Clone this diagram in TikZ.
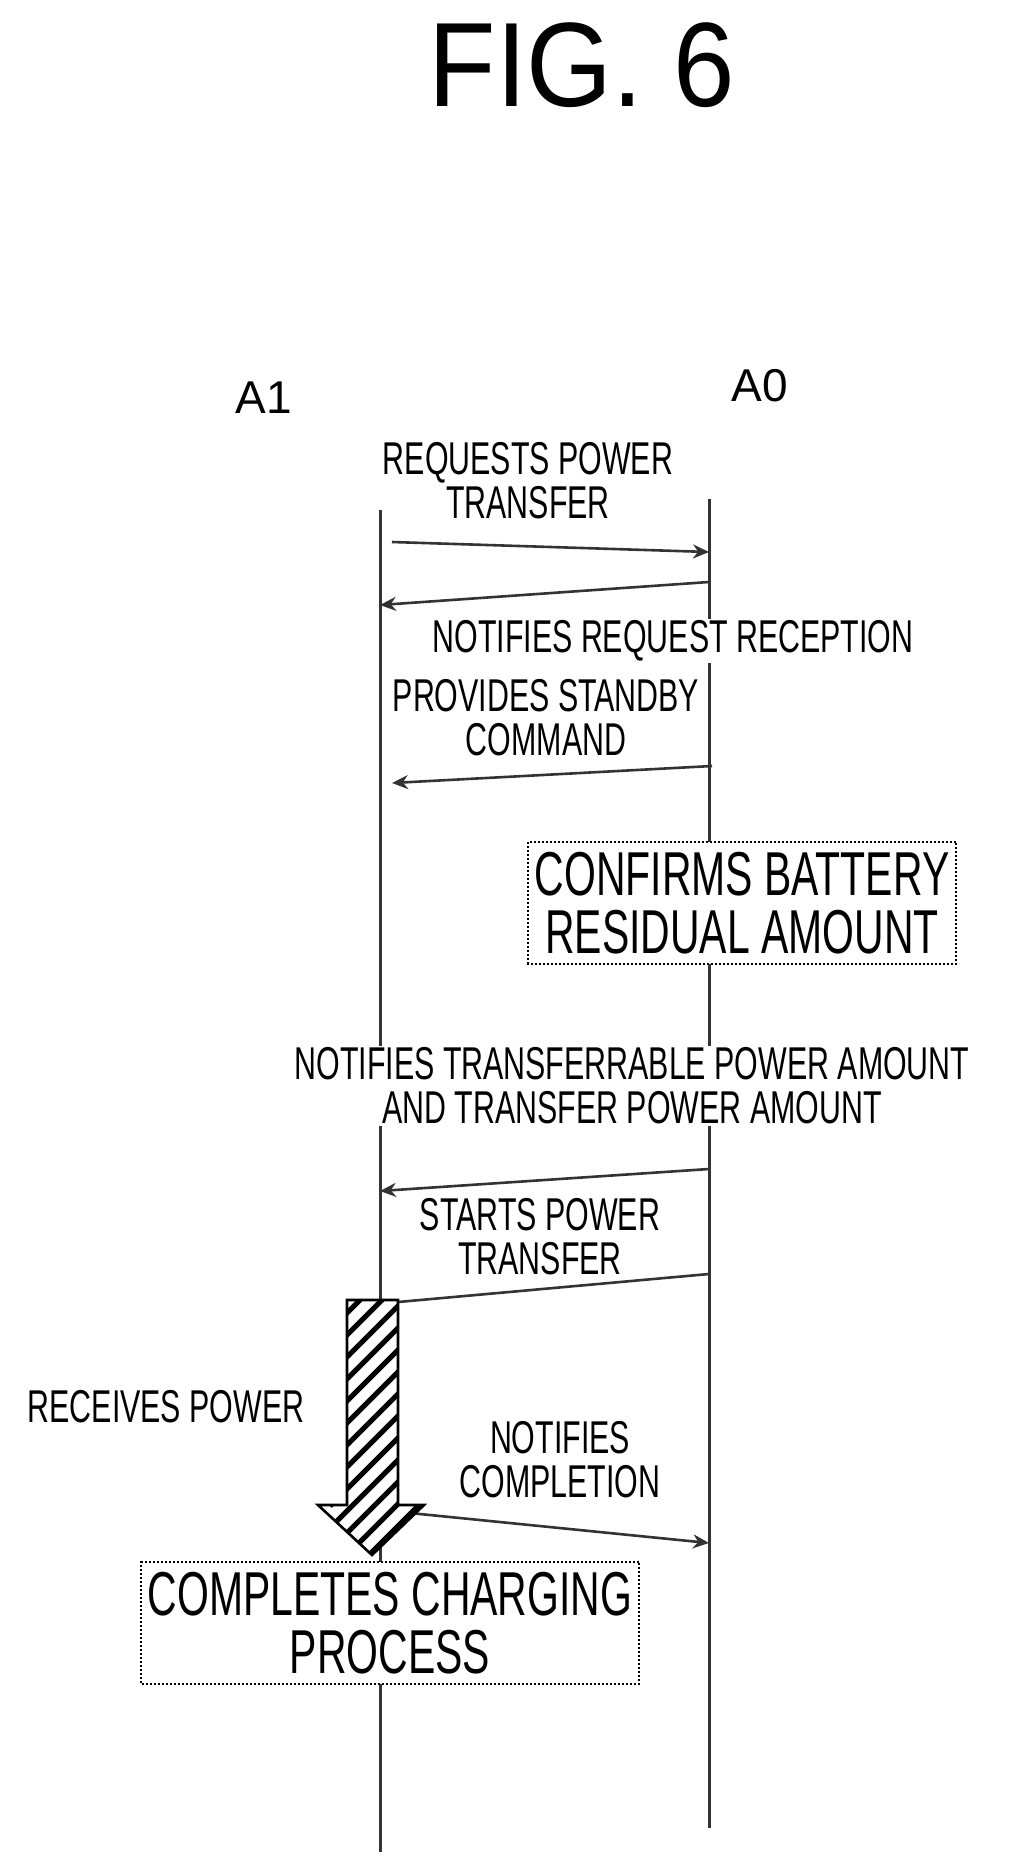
\documentclass[tikz,border=0pt]{standalone}
\usepackage{fontspec}
\setmainfont{Liberation Sans}
\usetikzlibrary{arrows.meta}
\begin{document}
\begin{tikzpicture}[x=1pt,y=-1pt]
    \tikzset{
        life/.style={line width=3pt, black!80},
        msg/.style={line width=2.6pt, black!80, -{Stealth[length=16pt,width=14pt]}},
        txt/.style={font=\fontsize{46}{44}\selectfont, align=center, xscale=0.66, transform shape, inner sep=2pt, fill=white},
        task/.style={txt, font=\fontsize{62}{58}\selectfont, draw, dotted, line width=2pt, inner sep=10pt}
    }
    \useasboundingbox (0,0) rectangle (1021,1866);

    % title and lifelines
    \node[xscale=0.92, transform shape] (fig) at (582,65) {\fontsize{120}{120}\selectfont FIG. 6};
    \node[font=\fontsize{46}{46}\selectfont] (a1) at (264,398) {A1};
    \node[font=\fontsize{46}{46}\selectfont] (a0) at (760,386) {A0};
    \coordinate (a1top) at (380,510);
    \coordinate (a1bot) at (380,1852);
    \coordinate (a0top) at (709,499);
    \coordinate (a0bot) at (709,1828);
    \draw[life] (a1top) -- (a1bot);
    \draw[life] (a0top) -- (a0bot);

    % messages
    \coordinate (m1a) at (392,542);  \coordinate (m1b) at (709,552);
    \coordinate (m2a) at (709,582);  \coordinate (m2b) at (380,605);
    \coordinate (m3a) at (712,766);  \coordinate (m3b) at (392,783);
    \coordinate (m4a) at (709,1169); \coordinate (m4b) at (380,1191);
    \coordinate (m5a) at (709,1274); \coordinate (m5b) at (398,1302);
    \coordinate (m6a) at (410,1513); \coordinate (m6b) at (709,1543);
    \draw[msg] (m1a) -- (m1b);
    \draw[msg] (m2a) -- (m2b);
    \draw[msg] (m3a) -- (m3b);
    \draw[msg] (m4a) -- (m4b);
    \draw[life, line width=2.6pt] (m5a) -- (m5b);
    \draw[msg] (m6a) -- (m6b);

    \node[txt] (req) at (528,481) {REQUESTS POWER\\TRANSFER};
    \node[txt] (rcv) at (673,641) {NOTIFIES REQUEST RECEPTION};
    \node[txt, fill=none] (stby) at (546,718) {PROVIDES STANDBY\\COMMAND};
    \node[task] (batt) at (742,903) {CONFIRMS BATTERY\\RESIDUAL AMOUNT};
    \node[txt] (amt) at (632,1086) {NOTIFIES TRANSFERRABLE POWER AMOUNT\\AND TRANSFER POWER AMOUNT};
    \node[txt] (start) at (540,1237) {STARTS POWER\\TRANSFER};

    % hatched power arrow
    \begin{scope}
        \path[clip] (347,1300) -- (398,1300) -- (398,1505) -- (424,1505) -- (372,1555)
            -- (318,1505) -- (347,1505) -- cycle;
        \fill[white] (300,1290) rectangle (440,1560);
        \foreach \k in {0,...,12}
            \draw[line width=5pt] (330,1330+\k*22) -- (430,1230+\k*22);
    \end{scope}
    \draw[line width=2.6pt] (347,1300) -- (398,1300) -- (398,1505) -- (424,1505) -- (372,1555)
        -- (318,1505) -- (347,1505) -- cycle;
    \node[txt, fill=none] (recv) at (166,1407) {RECEIVES POWER};
    \node[txt] (done) at (560,1460) {NOTIFIES\\COMPLETION};
    \node[task] (chg) at (390,1623) {COMPLETES CHARGING\\PROCESS};
\end{tikzpicture}
\end{document}
